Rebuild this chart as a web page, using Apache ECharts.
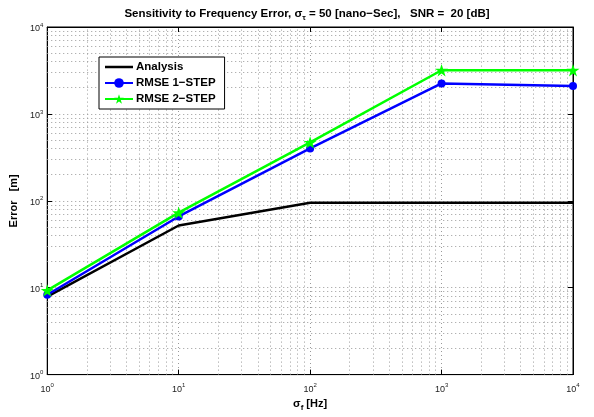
<!DOCTYPE html>
<html>
<head>
<meta charset="utf-8">
<script src="https://cdn.jsdelivr.net/npm/echarts@6/dist/echarts.min.js"></script>
<style>
html,body{margin:0;padding:0;background:#fff;}
#chart{width:594px;height:417px;}
</style>
</head>
<body>
<div id="chart"></div>
<script>
// ---- data ----
const xValues = [1, 10, 100, 1000, 10000];
const analysis = [7.9, 52, 95, 95, 95];
const rmse1 = [8.3, 66, 400, 2240, 2100];
const rmse2 = [9.3, 73, 470, 3180, 3180];
const seriesNames = ['Analysis', 'RMSE 1\u2212STEP', 'RMSE 2\u2212STEP'];
const xMin = 1, xMax = 10000, yMin = 1, yMax = 10000;

const FONT = 'Liberation Sans, Arial, sans-serif';
const star = 'path://M100,0L122.45,69.1L195.1,69.1L136.3,111.8L158.8,180.9L100,138.2L41.2,180.9L63.7,111.8L4.9,69.1L77.55,69.1Z';

function pairs(ys){ return xValues.map((x,i)=>[x, ys[i]]); }

// minor grid positions (2..9 x decade)
function minorVals(lo, hi){
  const out = [];
  for (let d = lo; d < hi; d *= 10) for (let k = 2; k <= 9; k++) out.push(k*d);
  return out;
}
const gridStyle = {color:'#9a9a9a', width:1, type:[1,3]};
const minorLines = [];
minorVals(xMin, xMax).forEach(v => minorLines.push({xAxis: v}));
minorVals(yMin, yMax).forEach(v => minorLines.push({yAxis: v}));

function expLabel(v){
  const e = Math.round(Math.log10(v));
  return '{b|10}{s|' + e + '}';
}
const tickRich = {
  b:{fontFamily:FONT, fontSize:9, color:'#222', padding:[4,0,0,0]},
  s:{fontFamily:FONT, fontSize:6, color:'#222', padding:[0,0,4,0]}
};

const chart = echarts.init(document.getElementById('chart'), null, {renderer:'canvas'});
const baseAxis = {
  type:'log', logBase:10,
  axisLine:{show:true, onZero:false, lineStyle:{color:'#000', width:1}},
  axisTick:{show:true, inside:true, length:5, lineStyle:{color:'#000'}},
  splitLine:{show:false}
};
chart.setOption({
  animation:false,
  backgroundColor:'#fff',
  title:{
    text:'Sensitivity to Frequency Error, \u03c3{sub|\u03c4} = 50 [nano\u2212Sec],   SNR =  20 [dB]',
    left:302, top:1, textAlign:'center',
    textStyle:{fontFamily:FONT, fontSize:11.5, fontWeight:'bold', color:'#000',
      rich:{sub:{fontFamily:FONT, fontSize:8, fontWeight:'bold', padding:[8,0,0,0]}}}
  },
  grid:{left:47, right:21, top:27, bottom:41, show:true, borderColor:'#000', borderWidth:1, backgroundColor:'#fff'},
  legend:{
    orient:'vertical', left:99, top:57,
    backgroundColor:'#fff', borderColor:'#000', borderWidth:1,
    padding:[4,9,4,5], itemGap:4, itemWidth:28, itemHeight:12,
    textStyle:{fontFamily:FONT, fontSize:11.5, fontWeight:'bold', color:'#000', padding:[0,0,0,-2]},
    data:[
      {name:seriesNames[0], icon:'path://M0,0L28,0L28,2.5L0,2.5Z'},
      {name:seriesNames[1]},
      {name:seriesNames[2]}
    ]
  },
  xAxis:[
    Object.assign({}, baseAxis, {
      min:xMin, max:xMax, position:'bottom',
      axisLabel:{show:true, formatter:expLabel, rich:tickRich, margin:6},
      splitLine:{show:true, lineStyle:gridStyle},
      name:'\u03c3{sub|f} [Hz]', nameLocation:'middle', nameGap:20,
      nameTextStyle:{fontFamily:FONT, fontSize:11, fontWeight:'bold', color:'#000',
        rich:{sub:{fontFamily:FONT, fontSize:8, fontWeight:'bold', padding:[8,0,0,0]}}}
    }),
    Object.assign({}, baseAxis, {min:xMin, max:xMax, position:'top', axisLabel:{show:false}})
  ],
  yAxis:[
    Object.assign({}, baseAxis, {
      min:yMin, max:yMax, position:'left',
      axisLabel:{show:true, formatter:expLabel, rich:tickRich, margin:4},
      splitLine:{show:true, lineStyle:gridStyle},
      name:'Error   [m]', nameLocation:'middle', nameGap:20,
      nameTextStyle:{fontFamily:FONT, fontSize:11, fontWeight:'bold', color:'#000'}
    }),
    Object.assign({}, baseAxis, {min:yMin, max:yMax, position:'right', axisLabel:{show:false}})
  ],
  series:[
    {
      name:seriesNames[0], type:'line', data:pairs(analysis),
      symbol:'none', showSymbol:false,
      lineStyle:{color:'#000', width:2.5}, itemStyle:{color:'#000'},
      z:3,
      markLine:{
        silent:true, symbol:['none','none'], label:{show:false},
        lineStyle:gridStyle, animation:false, z:1,
        data:minorLines
      }
    },
    {
      name:seriesNames[1], type:'line', data:pairs(rmse1),
      symbol:'circle', symbolSize:8,
      lineStyle:{color:'#0000ff', width:2.5}, itemStyle:{color:'#0000ff'},
      z:4
    },
    {
      name:seriesNames[2], type:'line', data:pairs(rmse2),
      symbol:star, symbolSize:13, symbolKeepAspect:true,
      lineStyle:{color:'#00ff00', width:2.5}, itemStyle:{color:'#00ff00'},
      z:5
    }
  ]
});
</script>
</body>
</html>
